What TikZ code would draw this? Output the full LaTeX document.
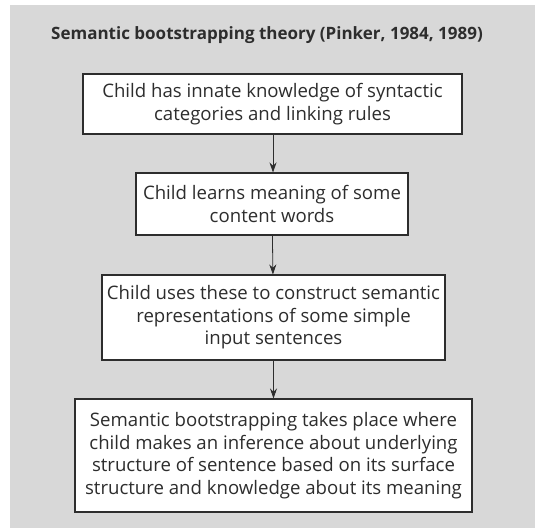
\documentclass[tikz,border=0pt]{standalone}
\usepackage{fontspec}
\setmainfont{Open Sans}
\usetikzlibrary{arrows.meta}
\definecolor{panel}{RGB}{216,216,216}
\definecolor{ink}{RGB}{45,45,45}
\tikzset{
  stepbox/.style={draw=ink, fill=white, line width=1.1pt, align=center, inner sep=0pt,
    text=ink, font=\fontsize{18.6}{22.6}\selectfont},
  flow/.style={draw=ink, line width=0.8pt, -{Stealth[length=10pt,width=7pt]}}
}
\begin{document}
\begin{tikzpicture}[x=1pt,y=-1pt]
\useasboundingbox (0,0) rectangle (535,528);
\fill[white] (0,0) rectangle (535,528);
\fill[panel] (10,5) rectangle (535,528);
\node[text=ink, font=\bfseries\fontsize{17}{20}\selectfont] (title) at (267,35) {Semantic bootstrapping theory (Pinker, 1984, 1989)};
\node[stepbox, minimum width=379pt, minimum height=60pt] (b1) at (272.5,104) {Child has innate knowledge of syntactic\\categories and linking rules};
\node[stepbox, minimum width=272pt, minimum height=62pt] (b2) at (272,204) {Child learns meaning of some\\content words};
\node[stepbox, minimum width=343pt, minimum height=85pt] (b3) at (273.5,317.5) {Child uses these to construct semantic\\representations of some simple\\input sentences};
\node[stepbox, minimum width=397pt, minimum height=113pt] (b4) at (273.5,455.5) {Semantic bootstrapping takes place where\\child makes an inference about underlying\\structure of sentence based on its surface\\structure and knowledge about its meaning};
\draw[flow] (b1.south -| 273,0) -- (b2.north -| 273,0);
\draw[flow] (b2) -- (b3);
\draw[flow] (b3) -- (b4);
\end{tikzpicture}
\end{document}
